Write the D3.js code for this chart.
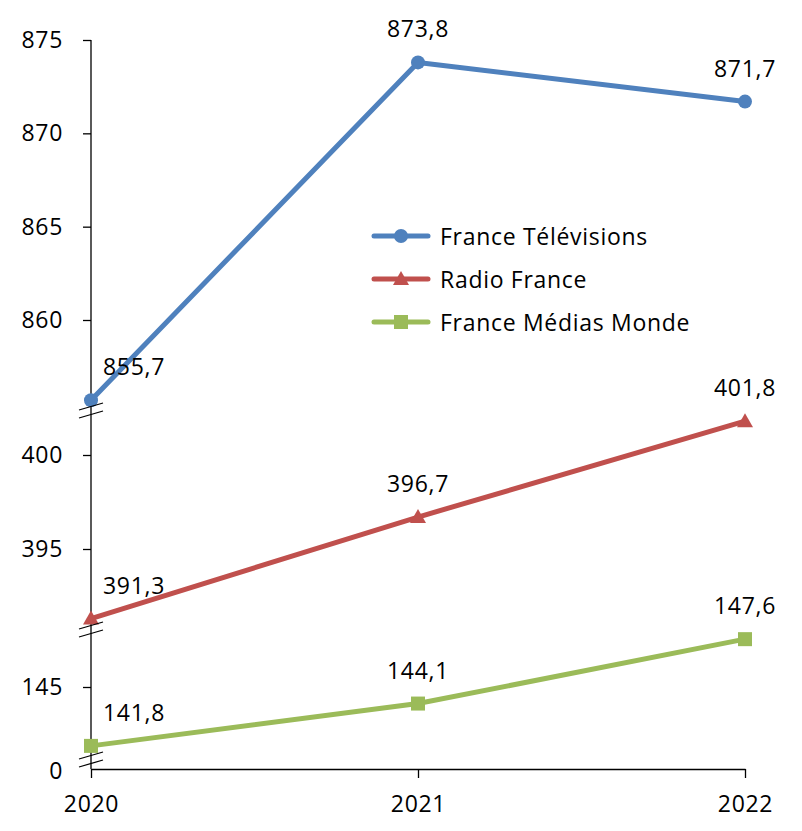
<!DOCTYPE html>
<html><head><meta charset="utf-8">
<script src="https://cdnjs.cloudflare.com/ajax/libs/d3/7.8.5/d3.min.js"></script>
<style>
html,body{margin:0;padding:0;background:#fff;}
text{font-family:"Open Sans",sans-serif;fill:#000;}
</style></head><body>
<svg id="chart" width="802" height="831"></svg>
<script>
const years = ["2020", "2021", "2022"];
const seriesNames = ["France Télévisions", "Radio France", "France Médias Monde"];
const ftvValues = [855.7, 873.8, 871.7];
const rfValues = [391.3, 396.7, 401.8];
const fmmValues = [141.8, 144.1, 147.6];
const topTicks = [860, 865, 870, 875];
const midTicks = [395, 400];
const botTicks = [145];
const zeroLabel = "0";
const colors = ["#4F81BD", "#C0504D", "#9BBB59"];

const svg = d3.select("#chart");
const fontSize = 23;
const ls = "0.7px";

const x = d3.scalePoint().domain(years).range([91, 745]);
// three axis segments (broken axis)
const yTop = d3.scaleLinear().domain([860, 875]).range([320, 40]);
const yMid = d3.scaleLinear().domain([395, 400]).range([549, 455]);
const yBot = d3.scaleLinear().domain([140, 145]).range([779, 687]);
const axisBottom = 769, axisTop = 40;

// x axis
const xAxis = d3.axisBottom(x).tickSize(9).tickSizeOuter(0);
const gx = svg.append("g").attr("transform", `translate(0,${axisBottom})`).call(xAxis);
gx.select(".domain").attr("stroke", "#000").attr("stroke-width", 1.3);
gx.selectAll(".tick line").attr("stroke", "#000").attr("stroke-width", 1.3);
gx.selectAll(".tick text").attr("font-size", fontSize).attr("font-family", "Open Sans")
  .attr("letter-spacing", ls).attr("y", 36).attr("dy", "0.32em").attr("fill", "#000");

// y axis line
svg.append("line").attr("x1", 91).attr("x2", 91).attr("y1", axisTop).attr("y2", axisBottom)
  .attr("stroke", "#000").attr("stroke-width", 1.3);

function yTicks(scale, ticks) {
  const g = svg.append("g").attr("transform", "translate(91,0)")
    .call(d3.axisLeft(scale).tickValues(ticks).tickSize(8).tickFormat(d3.format("d")));
  g.select(".domain").remove();
  g.selectAll(".tick line").attr("stroke", "#000").attr("stroke-width", 1.3);
  g.selectAll(".tick text").attr("font-size", fontSize).attr("font-family", "Open Sans")
    .attr("letter-spacing", ls).attr("x", -28).attr("fill", "#000");
}
yTicks(yTop, topTicks);
yTicks(yMid, midTicks);
yTicks(yBot, botTicks);
svg.append("text").attr("x", 63).attr("y", axisBottom + 1).attr("text-anchor", "end")
  .attr("dominant-baseline", "central").attr("font-size", fontSize).attr("letter-spacing", ls).text(zeroLabel);

// series lines
const series = [
  {name: seriesNames[0], values: ftvValues, scale: yTop, color: colors[0], shape: "circle"},
  {name: seriesNames[1], values: rfValues, scale: yMid, color: colors[1], shape: "triangle"},
  {name: seriesNames[2], values: fmmValues, scale: yBot, color: colors[2], shape: "square"}
];

function marker(g, shape, color, cx, cy) {
  if (shape === "circle") {
    g.append("circle").attr("cx", cx).attr("cy", cy).attr("r", 7).attr("fill", color);
  } else if (shape === "triangle") {
    g.append("path").attr("d", `M${cx},${cy - 8}L${cx + 8},${cy + 6}L${cx - 8},${cy + 6}Z`).attr("fill", color);
  } else {
    g.append("rect").attr("x", cx - 7).attr("y", cy - 7).attr("width", 14).attr("height", 14).attr("fill", color);
  }
}

const fmt = v => d3.format(".1f")(v).replace(".", ",");
series.forEach(s => {
  const g = svg.append("g");
  const line = d3.line().x((d, i) => x(years[i])).y(d => s.scale(d));
  g.append("path").datum(s.values).attr("d", line).attr("fill", "none")
    .attr("stroke", s.color).attr("stroke-width", 5).attr("stroke-linejoin", "round");
  s.values.forEach((v, i) => marker(g, s.shape, s.color, x(years[i]), s.scale(v)));
  s.values.forEach((v, i) => {
    const px = x(years[i]), py = s.scale(v);
    const t = svg.append("text").attr("font-size", fontSize).attr("letter-spacing", ls)
      .attr("dominant-baseline", "central").attr("y", py - 34).text(fmt(v));
    if (i === 0) t.attr("x", px + 12).attr("text-anchor", "start");
    else t.attr("x", px).attr("text-anchor", "middle");
  });
});

// axis break marks
function breakMark(yc) {
  [-4, 4].forEach(o => {
    svg.append("line").attr("x1", 79).attr("x2", 103).attr("y1", yc + o + 4).attr("y2", yc + o - 3)
      .attr("stroke", "#000").attr("stroke-width", 1.3);
  });
}
breakMark(410);
breakMark(629);
breakMark(759);

// legend
const lg = svg.append("g").attr("transform", "translate(374,236)");
series.forEach((s, i) => {
  const r = lg.append("g").attr("transform", `translate(0,${i * 43})`);
  r.append("line").attr("x1", 0).attr("x2", 54).attr("stroke", s.color).attr("stroke-width", 5).attr("stroke-linecap", "round");
  marker(r, s.shape, s.color, 27, 0);
  r.append("text").attr("x", 66).attr("y", 0).attr("dominant-baseline", "central")
    .attr("font-size", fontSize).attr("letter-spacing", ls).text(s.name);
});
</script>
</body></html>
